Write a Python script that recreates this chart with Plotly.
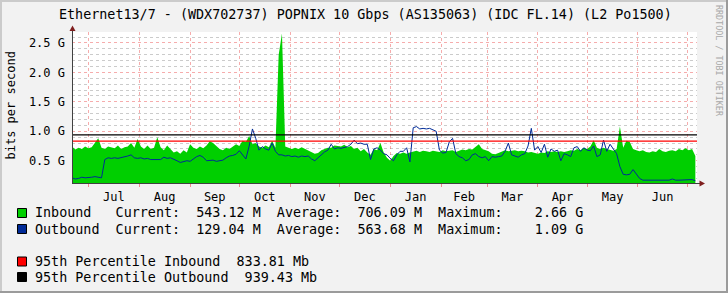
import plotly.graph_objects as go
import pandas as pd

# ---------------- data (G bits per second, one sample every 2 days) ----------------
start_date = "2024-06-21"
end_date = "2025-07-07"

inbound = [
    0.74, 0.69, 0.72, 0.70, 0.74, 0.71, 0.73, 0.80, 0.88, 0.72,
    0.70, 0.74, 0.72, 0.71, 0.76, 0.70, 0.73, 0.74, 0.80, 0.72,
    0.87, 0.74, 0.70, 0.76, 0.70, 0.72, 0.90, 0.73, 0.68, 0.76,
    0.70, 0.64, 0.66, 0.62, 0.68, 0.64, 0.78, 0.72, 0.70, 0.74,
    0.71, 0.76, 0.83, 0.80, 0.75, 0.70, 0.68, 0.72, 0.70, 0.74,
    0.78, 0.75, 0.84, 0.82, 0.92, 0.78, 0.80, 0.74, 0.72, 0.76,
    0.73, 0.84, 0.72, 2.30, 2.66, 0.74, 0.72, 0.70, 0.72, 0.70,
    0.73, 0.70, 0.68, 0.64, 0.62, 0.63, 0.68, 0.70, 0.72, 0.72,
    0.76, 0.75, 0.74, 0.77, 0.73, 0.75, 0.70, 0.72, 0.66, 0.70,
    0.64, 0.60, 0.70, 0.68, 0.80, 0.64, 0.55, 0.50, 0.58, 0.63,
    0.62, 0.64, 0.62, 0.64, 0.66, 0.67, 0.65, 0.67, 0.66, 0.65,
    0.67, 0.66, 0.65, 0.68, 0.66, 0.67, 0.68, 0.65, 0.67, 0.69,
    0.68, 0.70, 0.69, 0.74, 0.78, 0.70, 0.68, 0.66, 0.62, 0.61,
    0.63, 0.66, 0.68, 0.66, 0.67, 0.68, 0.66, 0.67, 0.66, 0.64,
    0.65, 0.63, 0.62, 0.64, 0.63, 0.66, 0.65, 0.66, 0.65, 0.66,
    0.65, 0.66, 0.68, 0.67, 0.70, 0.68, 0.72, 0.70, 0.74, 0.85,
    0.72, 0.70, 0.72, 0.70, 0.68, 0.67, 0.70, 1.08, 0.72, 0.84,
    0.82, 0.70, 0.68, 0.66, 0.68, 0.65, 0.64, 0.66, 0.65, 0.70,
    0.66, 0.65, 0.67, 0.68, 0.66, 0.70, 0.68, 0.71, 0.68, 0.70,
    0.58,
]

outbound = [
    0.21, 0.19, 0.20, 0.22, 0.21, 0.21, 0.22, 0.23, 0.22, 0.21,
    0.52, 0.55, 0.54, 0.55, 0.54, 0.55, 0.56, 0.58, 0.60, 0.55,
    0.54, 0.55, 0.53, 0.54, 0.52, 0.52, 0.53, 0.52, 0.56, 0.54,
    0.55, 0.53, 0.50, 0.47, 0.49, 0.50, 0.49, 0.53, 0.57, 0.59,
    0.56, 0.50, 0.50, 0.51, 0.49, 0.50, 0.51, 0.55, 0.58, 0.59,
    0.61, 0.67, 0.60, 0.53, 0.75, 1.04, 0.88, 0.68, 0.74, 0.70,
    0.68, 0.80, 0.66, 0.60, 0.60, 0.58, 0.59, 0.57, 0.58, 0.56,
    0.58, 0.57, 0.58, 0.53, 0.50, 0.55, 0.60, 0.65, 0.68, 0.78,
    0.70, 0.72, 0.71, 0.72, 0.74, 0.78, 0.85, 0.79, 0.80, 0.78,
    0.78, 0.52, 0.70, 0.72, 0.68, 0.62, 0.60, 0.54, 0.50, 0.60,
    0.66, 0.66, 0.72, 0.48, 1.06, 1.08, 1.04, 1.05, 1.04, 1.05,
    1.03, 1.00, 0.68, 0.63, 0.64, 0.82, 0.88, 0.62, 0.57, 0.55,
    0.50, 0.52, 0.60, 0.62, 0.57, 0.55, 0.57, 0.50, 0.57, 0.56,
    0.57, 0.58, 0.66, 0.80, 0.60, 0.58, 0.56, 0.60, 0.62, 0.75,
    1.05, 0.68, 0.74, 0.64, 0.78, 0.56, 0.70, 0.66, 0.68, 0.50,
    0.62, 0.60, 0.57, 0.72, 0.74, 0.66, 0.72, 0.68, 0.67, 0.75,
    0.57, 0.60, 0.85, 0.66, 0.78, 0.70, 0.62, 0.40, 0.27, 0.26,
    0.27, 0.35, 0.27, 0.20, 0.17, 0.17, 0.17, 0.17, 0.17, 0.17,
    0.18, 0.17, 0.17, 0.19, 0.17, 0.17, 0.17, 0.17, 0.18, 0.18,
    0.16,
]

p95_names = ["95th Percentile Inbound", "95th Percentile Outbound"]
p95_mb = [833.81, 939.43]
in_stats = ["543.12 M", "706.09 M", "2.66 G"]
out_stats = ["129.04 M", "563.68 M", "1.09 G"]

title_text = "Ethernet13/7 - (WDX702737) POPNIX 10 Gbps (AS135063) (IDC FL.14) (L2 Po1500)"

# ---------------- layout constants ----------------
W, H = 728, 293
L, R, T, B = 72, 31, 32, 110
PW, PH = W - L - R, H - T - B
MONO = "DejaVu Sans Mono"
GREEN, BLUE, RED, BLACK = "#00CF00", "#002A97", "#FF0000", "#000000"


def fx(px):
    return (px - L) / PW


def fy(py):
    return (H - B - py) / PH


dates = pd.date_range(start_date, periods=len(inbound), freq="2D")
xr = [pd.Timestamp(start_date), pd.Timestamp(end_date)]

fig = go.Figure()
fig.add_trace(go.Scatter(x=dates, y=inbound, mode="lines", fill="tozeroy",
                         fillcolor=GREEN, line=dict(width=0, color=GREEN),
                         hoverinfo="skip", showlegend=False))
fig.add_trace(go.Scatter(x=dates, y=outbound, mode="lines",
                         line=dict(width=1, color=BLUE),
                         hoverinfo="skip", showlegend=False))
for v, c in zip(p95_mb, [RED, BLACK]):
    fig.add_trace(go.Scatter(x=xr, y=[v / 1000, v / 1000], mode="lines",
                             line=dict(width=1.2, color=c),
                             hoverinfo="skip", showlegend=False))

shapes = []
# frame shading
shapes += [
    dict(type="rect", xref="paper", yref="paper", x0=fx(0), x1=fx(2), y0=fy(H), y1=fy(0),
         fillcolor="#CBCBCB", line_width=0, layer="above"),
    dict(type="rect", xref="paper", yref="paper", x0=fx(0), x1=fx(W), y0=fy(2), y1=fy(0),
         fillcolor="#CBCBCB", line_width=0, layer="above"),
    dict(type="rect", xref="paper", yref="paper", x0=fx(W - 2), x1=fx(W), y0=fy(H), y1=fy(0),
         fillcolor="#9B9B9B", line_width=0, layer="above"),
    dict(type="rect", xref="paper", yref="paper", x0=fx(0), x1=fx(W), y0=fy(H), y1=fy(H - 2),
         fillcolor="#9B9B9B", line_width=0, layer="above"),
]
# axes lines
shapes += [
    dict(type="line", xref="paper", yref="paper", x0=fx(72.5), x1=fx(72.5), y0=fy(183.5), y1=fy(29),
         line=dict(color="#404040", width=1), layer="above"),
    dict(type="line", xref="paper", yref="paper", x0=fx(72), x1=fx(701), y0=fy(183.5), y1=fy(183.5),
         line=dict(color="#404040", width=1), layer="above"),
]
# arrows
shapes += [
    dict(type="path", xref="paper", yref="paper",
         path=f"M {fx(72.5)},{fy(25.5)} L {fx(69.5)},{fy(31)} L {fx(75.5)},{fy(31)} Z",
         fillcolor="#7F1F1F", line=dict(width=0), layer="above"),
    dict(type="path", xref="paper", yref="paper",
         path=f"M {fx(705)},{fy(183.5)} L {fx(699.5)},{fy(180.5)} L {fx(699.5)},{fy(186.5)} Z",
         fillcolor="#7F1F1F", line=dict(width=0), layer="above"),
]
# legend squares
legend_rows_y = [213, 229, 261.5, 277]
for yc, c in zip(legend_rows_y, [GREEN, BLUE, RED, BLACK]):
    shapes.append(dict(type="rect", xref="paper", yref="paper",
                       x0=fx(17.5), x1=fx(26.5), y0=fy(yc + 4.5), y1=fy(yc - 4.5),
                       fillcolor=c, line=dict(color="#000000", width=1), layer="above"))

NB = "\u00a0"


def mono(s):
    return s.replace(" ", NB)


row1 = "Inbound   Current:  {:>8}  Average:  {:>8}  Maximum:  {:>8}".format(*in_stats)
row2 = "Outbound  Current:  {:>8}  Average:  {:>8}  Maximum:  {:>8}".format(*out_stats)
row3 = "{}  {:.2f} Mb".format(p95_names[0], p95_mb[0])
row4 = "{}  {:.2f} Mb".format(p95_names[1], p95_mb[1])

annotations = []
for yc, s in zip(legend_rows_y, [row1, row2, row3, row4]):
    annotations.append(dict(text=mono(s), xref="paper", yref="paper", x=fx(33), y=fy(yc),
                            xanchor="left", yanchor="middle", showarrow=False,
                            font=dict(family=MONO, size=13.4, color="#000000")))
annotations.append(dict(text=mono(title_text), xref="paper", yref="paper", x=fx(365.5), y=fy(14),
                        xanchor="center", yanchor="middle", showarrow=False,
                        font=dict(family=MONO, size=13.4, color="#000000")))
annotations.append(dict(text=mono("bits per second"), xref="paper", yref="paper", x=fx(10.5), y=fy(106),
                        xanchor="center", yanchor="middle", showarrow=False, textangle=-90,
                        font=dict(family=MONO, size=12, color="#000000")))
annotations.append(dict(text=mono("RRDTOOL / TOBI OETIKER"), xref="paper", yref="paper", x=fx(719), y=fy(61),
                        xanchor="center", yanchor="middle", showarrow=False, textangle=90,
                        font=dict(family=MONO, size=8.4, color="#A8A8A8")))

fig.update_layout(
    width=W, height=H,
    margin=dict(l=L, r=R, t=T, b=B, pad=0),
    paper_bgcolor="#F2F2F2", plot_bgcolor="#FFFFFF",
    showlegend=False,
    shapes=shapes, annotations=annotations,
    xaxis=dict(type="date", range=xr, dtick="M1", tick0="2024-07-01",
               ticklabelmode="period", tickformat="%b",
               showgrid=True, gridcolor="rgba(235,70,70,0.45)", griddash="dot", gridwidth=1,
               ticks="outside", ticklen=3, tickcolor="rgba(235,70,70,0.6)",
               showline=False, zeroline=False, fixedrange=True,
               tickfont=dict(family=MONO, size=12, color="#000000"),
               ticklabelstandoff=0),
    yaxis=dict(range=[0.122, 2.686], tick0=0, dtick=0.5, tickformat=".1f", ticksuffix=" G",
               showgrid=True, gridcolor="rgba(235,70,70,0.45)", griddash="dot", gridwidth=1,
               minor=dict(dtick=0.1, tick0=0, showgrid=True, gridcolor="rgba(140,140,140,0.45)",
                          griddash="dot", gridwidth=1),
               ticks="", showline=False, zeroline=False, fixedrange=True,
               tickfont=dict(family=MONO, size=12, color="#000000"),
               ticklabelstandoff=6),
)

fig.write_html("out.html", config={"displayModeBar": False, "staticPlot": True})
